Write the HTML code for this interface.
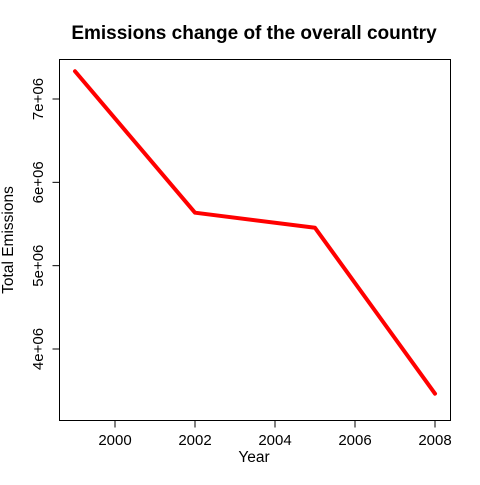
<!DOCTYPE html>
<html><head><meta charset="utf-8"><style>
body{margin:0;background:#fff;}
svg text{font-family:"Liberation Sans",Arial,sans-serif;}
</style></head><body>
<svg id="c" width="480" height="480" xmlns="http://www.w3.org/2000/svg">
<text x="254" y="39" text-anchor="middle" font-size="19" font-weight="bold">Emissions change of the overall country</text>
<rect x="59.5" y="59.5" width="391" height="361" fill="none" stroke="#000" stroke-width="1"/>
<text x="254" y="462" text-anchor="middle" font-size="15.5">Year</text>
<text transform="translate(13,240) rotate(-90)" text-anchor="middle" font-size="15.5">Total Emissions</text>
<g id="xaxis"></g><g id="yaxis"></g><g id="series"></g>
</svg>
<script>
const years=[1999,2002,2005,2008];
const emissions=[7332967,5635780,5454703,3464206];
const xTicks=[2000,2002,2004,2006,2008];
const yTicks=[4000000,5000000,6000000,7000000];
const yTickLabels=["4e+06","5e+06","6e+06","7e+06"];
const NS="http://www.w3.org/2000/svg";
function x(v){return 75+(v-1999)*40;}
function y(v){return 349-(v-4000000)*83.33e-6;}
function mk(t,a,p){const e=document.createElementNS(NS,t);for(const k in a)e.setAttribute(k,a[k]);p.appendChild(e);return e;}
const xa=document.getElementById('xaxis'),ya=document.getElementById('yaxis'),s=document.getElementById('series');
let l=mk('line',{x1:x(xTicks[0]),x2:x(xTicks[xTicks.length-1]),y1:420.5,y2:420.5,stroke:'#000'},xa);


xTicks.forEach(t=>{
 const tk=mk('line',{x1:x(t),x2:x(t),y1:420.5,y2:427.5,stroke:'#000'},xa);
 
 
 const tx=mk('text',{x:x(t),y:445,'text-anchor':'middle','font-size':15},xa);
 tx.textContent=t;
 
 
});
let l2=mk('line',{x1:59.5,x2:59.5,y1:y(yTicks[0]),y2:y(yTicks[yTicks.length-1]),stroke:'#000'},ya);


yTicks.forEach((t,i)=>{
 const tk=mk('line',{x1:52.5,x2:59.5,y1:y(t),y2:y(t),stroke:'#000'},ya);
 
 
 const tx=mk('text',{transform:`translate(43,${y(t)}) rotate(-90)`,'text-anchor':'middle','font-size':15},ya);
 tx.textContent=yTickLabels[i];
 
 
});
const pl=mk('polyline',{points:years.map((v,i)=>x(v)+','+y(emissions[i])).join(' '),fill:'none',stroke:'#ff0000','stroke-width':4,'stroke-linejoin':'round','stroke-linecap':'round'},s);


</script>
</body></html>
